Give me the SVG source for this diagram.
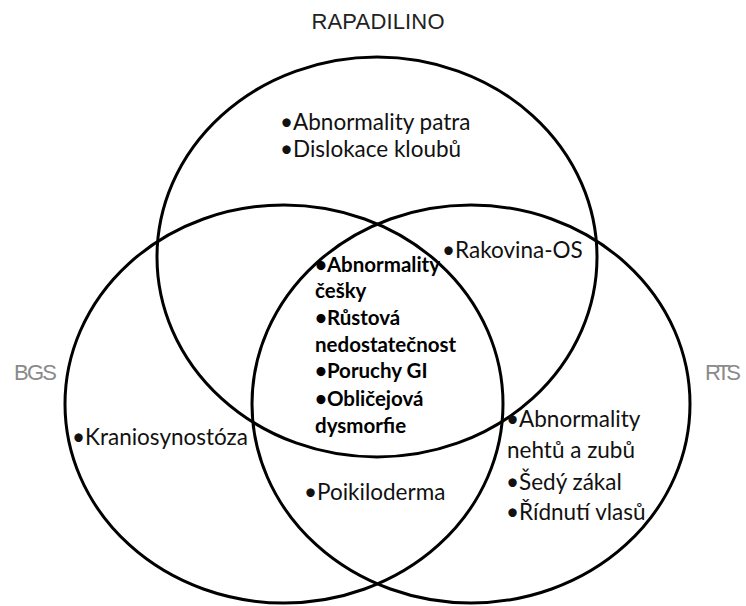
<svg xmlns="http://www.w3.org/2000/svg" width="746" height="606" viewBox="0 0 746 606">
<style>
.c{fill:none;stroke:#000;stroke-width:3}
.t{font-family:Lato,"Open Sans","Liberation Sans",sans-serif;font-size:22.5px;fill:#111}
.b{font-family:Lato,"Open Sans","Liberation Sans",sans-serif;font-size:20.5px;font-weight:bold;fill:#000}
.h{font-family:"Liberation Sans",Arial,sans-serif;font-size:22px}
</style>
<rect width="746" height="606" fill="#fff"/>
<g id="connectors">
<ellipse id="c-top" class="c" cx="377" cy="257" rx="220" ry="200"/>
<ellipse id="c-left" class="c" cx="284" cy="404" rx="219" ry="199"/>
<ellipse id="c-right" class="c" cx="471" cy="404" rx="219" ry="199"/>
</g>
<g id="rapadilino"><text class="h" x="378" y="29" text-anchor="middle" fill="#222" textLength="133">RAPADILINO</text></g>
<g id="bgs"><text class="h" x="14" y="380" fill="#8a8a8a" textLength="43">BGS</text></g>
<g id="rts"><text class="h" x="705" y="380" fill="#8a8a8a" textLength="36">RTS</text></g>
<g id="top-only">
<text class="t" x="280" y="130">•Abnormality patra</text>
<text class="t" x="280" y="157">•Dislokace kloubů</text>
</g>
<g id="top-right"><text class="t" x="442" y="258">•Rakovina-OS</text></g>
<g id="center">
<text class="b" x="315" y="272">•Abnormality</text>
<text class="b" x="315" y="298">češky</text>
<text class="b" x="315" y="325">•Růstová</text>
<text class="b" x="315" y="352">nedostatečnost</text>
<text class="b" x="315" y="378">•Poruchy GI</text>
<text class="b" x="315" y="406">•Obličejová</text>
<text class="b" x="315" y="433">dysmorfie</text>
</g>
<g id="left-only"><text class="t" x="72" y="445">•Kraniosynostóza</text></g>
<g id="left-right"><text class="t" x="304" y="500">•Poikiloderma</text></g>
<g id="right-only">
<text class="t" x="506" y="427">•Abnormality</text>
<text class="t" x="507" y="458">nehtů a zubů</text>
<text class="t" x="506" y="490">•Šedý zákal</text>
<text class="t" x="506" y="520">•Řídnutí vlasů</text>
</g>
</svg>
